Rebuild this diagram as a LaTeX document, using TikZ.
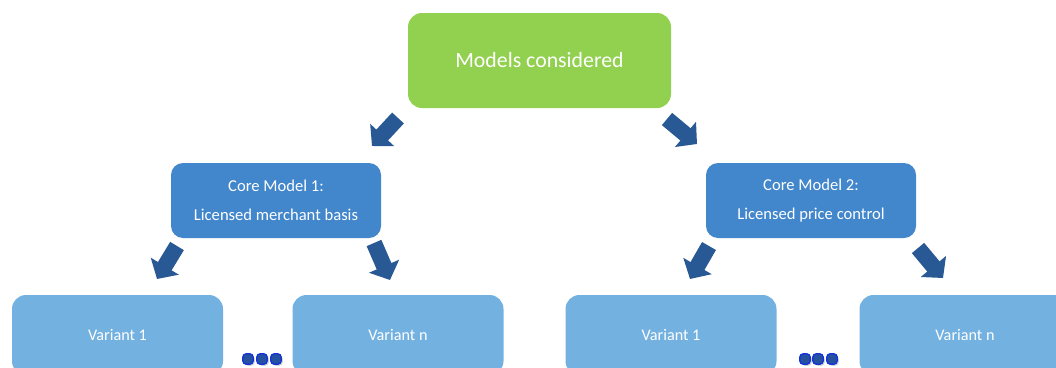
\documentclass[tikz,border=0pt]{standalone}
\usepackage{fontspec}
\setmainfont{Carlito}
\usetikzlibrary{arrows.meta}
\usetikzlibrary{shadows}

\definecolor{topgreen}{RGB}{146,208,80}
\definecolor{coreblue}{RGB}{66,134,204}
\definecolor{variantblue}{RGB}{115,177,225}
\definecolor{arrowblue}{RGB}{40,89,148}
\definecolor{dotblue}{RGB}{38,80,160}
\definecolor{dotrim}{RGB}{20,50,220}

\tikzset{
    topbox/.style={fill=topgreen, rounded corners=14pt, minimum width=263pt, minimum height=95pt,
        text=white, font=\fontsize{21.8}{26}\selectfont},
    corebox/.style={fill=coreblue, rounded corners=12pt, minimum width=210pt, minimum height=75pt,
        text=white, align=center, font=\fontsize{16.6}{29.5}\selectfont},
    variantbox/.style={fill=variantblue, rounded corners=14pt, minimum width=211pt, minimum height=80pt,
        text=white, font=\fontsize{16.2}{19}\selectfont},
    blockarrow/.style={arrowblue, line width=16pt, -{Triangle[length=15pt, width=32pt]}},
    dot/.style={fill=dotblue, draw=dotrim, line width=1.3pt, rounded corners=3.5pt, minimum size=10.5pt,
        inner sep=0pt, drop shadow={opacity=0.35, shadow xshift=1.5pt, shadow yshift=-1.5pt}}
}

\begin{document}
\begin{tikzpicture}[x=1pt, y=-1pt]
    \clip (0,0) rectangle (1056,367);

    %Top
    \node[topbox] (models) at (539.5, 60.5) {Models considered};

    %Core models
    \node[corebox] (core1) at (276, 200.5) {Core Model 1:\\Licensed merchant basis};
    \node[corebox] (core2) at (811, 200.5) {Core Model 2:\\Licensed price control};

    %Variants
    \node[variantbox] (var1a) at (117.5, 335) {Variant 1};
    \node[variantbox] (varna) at (398, 335) {Variant n};
    \node[variantbox] (var1b) at (671, 335) {Variant 1};
    \node[variantbox] (varnb) at (965, 335) {Variant n};

    %Arrow ends
    \coordinate (t1) at (398, 118);  \coordinate (h1) at (372, 146);
    \coordinate (t2) at (667, 119);  \coordinate (h2) at (697, 144);
    \coordinate (t3) at (177, 246);  \coordinate (h3) at (157, 279);
    \coordinate (t4) at (374, 243);  \coordinate (h4) at (390, 280);
    \coordinate (t5) at (709, 246);  \coordinate (h5) at (690, 279);
    \coordinate (t6) at (918, 248);  \coordinate (h6) at (943, 278);

    %Arrows
    \draw[blockarrow] (t1) -- (h1);
    \draw[blockarrow] (t2) -- (h2);
    \draw[blockarrow] (t3) -- (h3);
    \draw[blockarrow] (t4) -- (h4);
    \draw[blockarrow] (t5) -- (h5);
    \draw[blockarrow] (t6) -- (h6);

    %Dots
    \node[dot] (d1) at (248, 359) {};
    \node[dot] (d2) at (262, 359) {};
    \node[dot] (d3) at (276, 359) {};
    \node[dot] (d4) at (805, 359) {};
    \node[dot] (d5) at (818, 359) {};
    \node[dot] (d6) at (832, 359) {};
\end{tikzpicture}
\end{document}
